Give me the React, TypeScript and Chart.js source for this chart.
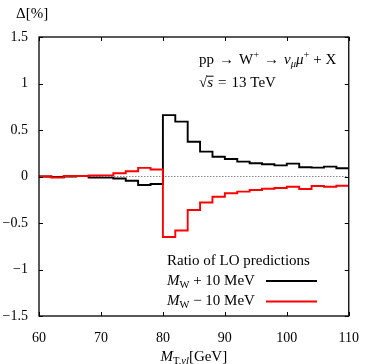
import React, { useEffect, useRef } from 'react';
import { Chart, registerables } from 'chart.js';

Chart.register(...registerables);

// Bin edges of the M_T histogram (2 GeV bins)
const binEdges = [60, 62, 64, 66, 68, 70, 72, 74, 76, 78, 80, 82, 84, 86, 88, 90, 92, 94, 96, 98, 100, 102, 104, 106, 108, 110];
// Delta [%] for M_W + 10 MeV (one value per bin)
const plusValues = [0.0, -0.005, 0.0, 0.005, -0.012, -0.012, -0.022, -0.045, -0.092, -0.08, 0.66, 0.59, 0.374, 0.267, 0.213, 0.188, 0.16, 0.142, 0.131, 0.12, 0.138, 0.099, 0.095, 0.106, 0.088];
// Delta [%] for M_W - 10 MeV
const minusValues = [0.0, -0.01, 0.006, 0.006, 0.01, 0.012, 0.035, 0.057, 0.093, 0.075, -0.65, -0.58, -0.36, -0.28, -0.217, -0.18, -0.163, -0.145, -0.131, -0.124, -0.11, -0.134, -0.102, -0.11, -0.099];
const xTicks = [60, 70, 80, 90, 100, 110];
const yTicks = [-1.5, -1, -0.5, 0, 0.5, 1, 1.5];

const FONT = '"Liberation Serif", "DejaVu Serif", serif';
const TEXT_SIZE = 15;
const TICK_SIZE = 14;

type Seg = { t: string; it?: boolean; sub?: boolean; sup?: boolean; over?: boolean };

function drawRich(ctx: CanvasRenderingContext2D, x: number, y: number, segs: Seg[], size: number, align: 'left' | 'right' | 'center' = 'left') {
  const fontFor = (s: Seg) => `${s.it ? 'italic ' : ''}${s.sub || s.sup ? size * 0.7 : size}px ${FONT}`;
  let total = 0;
  const widths = segs.map((s) => {
    ctx.font = fontFor(s);
    const w = ctx.measureText(s.t).width;
    total += w;
    return w;
  });
  let cx = align === 'left' ? x : align === 'right' ? x - total : x - total / 2;
  ctx.textBaseline = 'alphabetic';
  ctx.textAlign = 'left';
  segs.forEach((s, i) => {
    ctx.font = fontFor(s);
    const dy = s.sub ? size * 0.22 : s.sup ? -size * 0.38 : 0;
    ctx.fillText(s.t, cx, y + dy);
    if (s.over) {
      ctx.save();
      ctx.lineWidth = 1;
      ctx.strokeStyle = '#000';
      ctx.beginPath();
      const oy = y - size * 0.72;
      ctx.moveTo(cx - 0.5, oy);
      ctx.lineTo(cx + widths[i] + 0.5, oy);
      ctx.stroke();
      ctx.restore();
    }
    cx += widths[i];
  });
}

function toSteps(vals: number[]) {
  return binEdges.map((e, i) => ({ x: e, y: vals[Math.min(i, vals.length - 1)] }));
}

const decorPlugin = {
  id: 'decor',
  afterDraw(chart: any) {
    const { ctx, chartArea: a, scales } = chart;
    const xs = scales.x;
    const ys = scales.y;
    ctx.save();
    ctx.strokeStyle = '#000';
    ctx.lineWidth = 1.3;
    ctx.strokeRect(a.left, a.top, a.right - a.left, a.bottom - a.top);
    ctx.lineWidth = 1;
    const tl = 4;
    ctx.beginPath();
    xTicks.forEach((v) => {
      const px = Math.round(xs.getPixelForValue(v)) + 0.5;
      ctx.moveTo(px, a.bottom);
      ctx.lineTo(px, a.bottom - tl);
      ctx.moveTo(px, a.top);
      ctx.lineTo(px, a.top + tl);
    });
    yTicks.forEach((v) => {
      const py = Math.round(ys.getPixelForValue(v)) + 0.5;
      ctx.moveTo(a.left, py);
      ctx.lineTo(a.left + tl, py);
      ctx.moveTo(a.right, py);
      ctx.lineTo(a.right - tl, py);
    });
    ctx.stroke();

    ctx.fillStyle = '#000';
    // y axis label
    drawRich(ctx, 16, 18, [{ t: 'Δ[%]' }], TEXT_SIZE);
    // x axis title
    drawRich(ctx, (a.left + a.right) / 2, 361, [{ t: 'M', it: true }, { t: 'T,', sub: true }, { t: 'νl', sub: true, it: true }, { t: '[GeV]' }], TEXT_SIZE, 'center');
    // process annotation
    drawRich(ctx, 199, 64, [{ t: 'pp\u2004→\u2004W' }, { t: '+', sup: true }, { t: '\u2004→\u2004' }, { t: 'ν', it: true }, { t: 'μ', it: true, sub: true }, { t: 'μ', it: true }, { t: '+', sup: true }, { t: ' + X' }], TEXT_SIZE);
    drawRich(ctx, 199, 87, [{ t: '√' }, { t: 's', it: true, over: true }, { t: '\u2004=\u200413 TeV' }], TEXT_SIZE);
    // legend
    drawRich(ctx, 167, 265, [{ t: 'Ratio of LO predictions' }], TEXT_SIZE);
    drawRich(ctx, 167, 285, [{ t: 'M', it: true }, { t: 'W', sub: true }, { t: ' + 10 MeV' }], TEXT_SIZE);
    drawRich(ctx, 167, 305, [{ t: 'M', it: true }, { t: 'W', sub: true }, { t: ' − 10 MeV' }], TEXT_SIZE);
    ctx.lineWidth = 2;
    ctx.strokeStyle = '#000';
    ctx.beginPath();
    ctx.moveTo(266, 281);
    ctx.lineTo(317, 281);
    ctx.stroke();
    ctx.strokeStyle = '#ff0000';
    ctx.beginPath();
    ctx.moveTo(266, 301.5);
    ctx.lineTo(317, 301.5);
    ctx.stroke();
    ctx.restore();
  },
};

export default function App() {
  const ref = useRef<HTMLCanvasElement | null>(null);
  useEffect(() => {
    if (!ref.current) return;
    const chart = new Chart(ref.current, {
      type: 'line',
      data: {
        datasets: [
          {
            label: 'M_W - 10 MeV',
            data: toSteps(minusValues),
            borderColor: '#ff0000',
            borderWidth: 1.9,
            pointRadius: 0,
            stepped: true,
            fill: false,
            order: 0,
          },
          {
            label: 'M_W + 10 MeV',
            data: toSteps(plusValues),
            borderColor: '#000000',
            borderWidth: 1.9,
            pointRadius: 0,
            stepped: true,
            fill: false,
            order: 1,
          },
          {
            label: 'zero',
            data: [{ x: 60, y: 0 }, { x: 110, y: 0 }],
            borderColor: '#888888',
            borderWidth: 1,
            borderDash: [1.5, 1.5],
            pointRadius: 0,
            fill: false,
            order: 2,
          },
        ],
      },
      options: {
        responsive: false,
        animation: false,
        events: [],
        layout: { padding: { top: 37, right: 12, left: 0, bottom: 0 } },
        plugins: { legend: { display: false }, tooltip: { enabled: false }, title: { display: false } },
        scales: {
          x: {
            type: 'linear',
            min: 60,
            max: 110,
            afterBuildTicks: (s: any) => { s.ticks = xTicks.map((v) => ({ value: v })); },
            ticks: { color: '#000', font: { family: FONT, size: TICK_SIZE }, padding: 14, maxRotation: 0, callback: (v: any) => String(v) },
            grid: { display: false, drawTicks: false },
            border: { display: false },
            afterFit: (s: any) => { s.height = 48; },
          },
          y: {
            type: 'linear',
            min: -1.5,
            max: 1.5,
            afterBuildTicks: (s: any) => { s.ticks = yTicks.map((v) => ({ value: v })); },
            ticks: { color: '#000', font: { family: FONT, size: TICK_SIZE }, padding: 11, callback: (v: any) => (Number(v) < 0 ? '−' + String(Math.abs(Number(v))) : String(v)) },
            grid: { display: false, drawTicks: false },
            border: { display: false },
            afterFit: (s: any) => { s.width = 39; },
          },
        },
      },
      plugins: [decorPlugin],
    } as any);
    return () => chart.destroy();
  }, []);
  return (
    <div style={{ position: 'fixed', left: 0, top: 0, width: 373, height: 364, background: '#fff' }}>
      <canvas ref={ref} width={373} height={364} style={{ width: 373, height: 364 }} />
    </div>
  );
}
